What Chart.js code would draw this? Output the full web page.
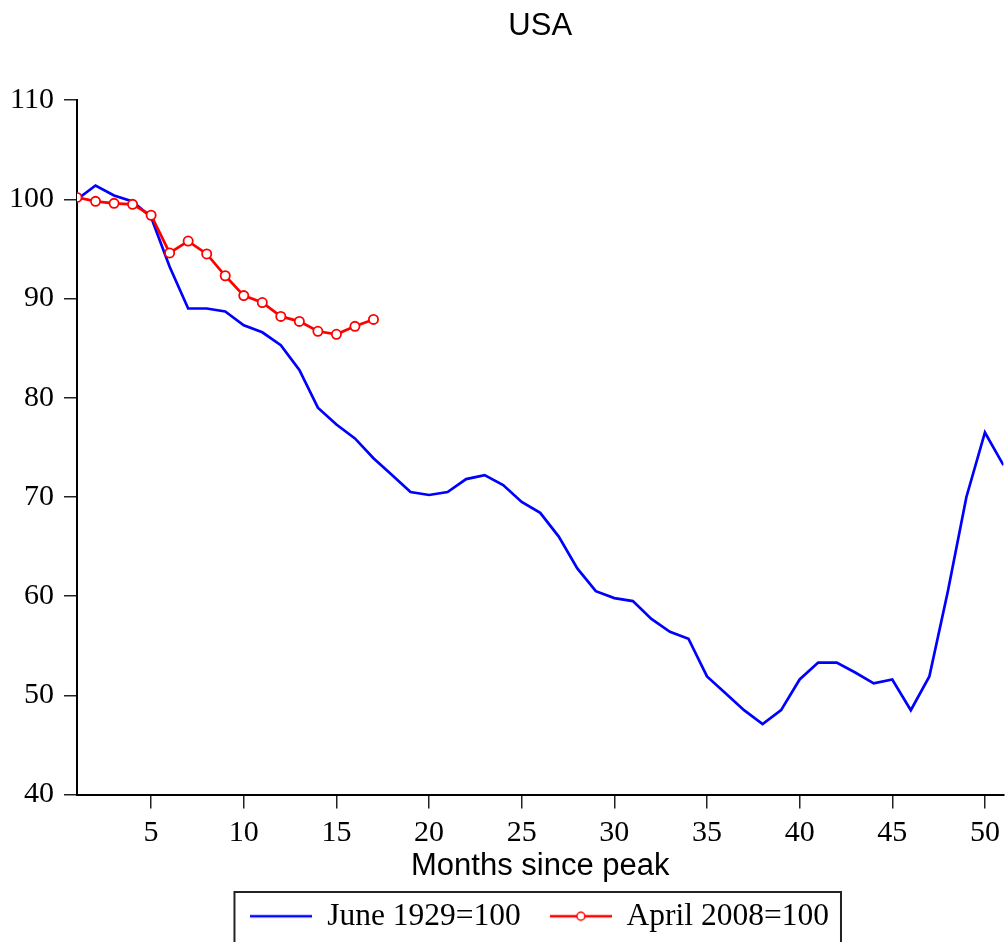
<!DOCTYPE html>
<html>
<head>
<meta charset="utf-8">
<title>USA</title>
<script src="https://cdn.jsdelivr.net/npm/chart.js@4/dist/chart.umd.min.js"></script>
<style>
  html, body { margin: 0; padding: 0; background: #fff; }
  #wrap { width: 1007px; height: 942px; }
</style>
</head>
<body>
<div id="wrap"><canvas id="usa" width="1007" height="942"></canvas></div>
<script>
// months since the peak
var months = [1, 2, 3, 4, 5, 6, 7, 8, 9, 10, 11, 12, 13, 14, 15, 16, 17, 18, 19, 20,
              21, 22, 23, 24, 25, 26, 27, 28, 29, 30, 31, 32, 33, 34, 35, 36, 37, 38, 39, 40,
              41, 42, 43, 44, 45, 46, 47, 48, 49, 50, 51];

// industrial production, indexed to the peak month
var june1929 = [100.0, 101.4, 100.4, 99.8, 98.2, 93.2, 89.0, 89.0, 88.7, 87.3,
                86.6, 85.3, 82.8, 79.0, 77.3, 75.9, 73.9, 72.2, 70.5, 70.2,
                70.5, 71.8, 72.2, 71.2, 69.5, 68.4, 66.0, 62.8, 60.5, 59.8,
                59.5, 57.7, 56.4, 55.7, 51.9, 50.2, 48.5, 47.1, 48.5, 51.6,
                53.3, 53.3, 52.3, 51.2, 51.6, 48.5, 51.9, 60.5, 70.0, 76.5,
                73.2];
var april2008 = [100.2, 99.8, 99.6, 99.5, 98.4, 94.6, 95.8, 94.5, 92.3, 90.3,
                 89.6, 88.2, 87.7, 86.7, 86.4, 87.2, 87.9];

var xTicks = [5, 10, 15, 20, 25, 30, 35, 40, 45, 50];
var yTicks = [40, 50, 60, 70, 80, 90, 100, 110];

var seriesNames = ['June 1929=100', 'April 2008=100'];

function points(vals) {
  return vals.map(function (v, i) { return { x: months[i], y: v }; });
}

// little line samples for the legend
function sample(color, marker) {
  var c = document.createElement('canvas');
  c.width = 62; c.height = 12;
  var g = c.getContext('2d');
  g.strokeStyle = color;
  g.lineWidth = 2.5;
  g.beginPath(); g.moveTo(0, 6); g.lineTo(62, 6); g.stroke();
  if (marker) {
    g.fillStyle = '#fff';
    g.lineWidth = 1.5;
    g.beginPath(); g.arc(31, 6, 4, 0, Math.PI * 2); g.fill(); g.stroke();
  }
  return c;
}
var legendSamples = [sample('#0000ff', false), sample('#ff0000', true)];

var serif = "'Liberation Serif', 'Times New Roman', serif";
var sans = "'Liberation Sans', Arial, sans-serif";

// frame around the legend
var legendFrame = {
  id: 'legendFrame',
  afterDraw: function (chart) {
    var hb = chart.legend.legendHitBoxes;
    if (!hb || !hb.length) return;
    var last = hb[hb.length - 1];
    var left = hb[0].left - 17;
    var right = last.left + last.width + 12;
    var top = hb[0].top - 8.5;
    var ctx = chart.ctx;
    ctx.save();
    ctx.strokeStyle = '#222';
    ctx.lineWidth = 2;
    ctx.strokeRect(left, top, right - left, 80);
    ctx.restore();
  }
};

var ctx = document.getElementById('usa');
var chart = new Chart(ctx, {
  type: 'line',
  data: {
    datasets: [{
      label: seriesNames[0],
      data: points(june1929),
      borderColor: '#0000ff',
      borderWidth: 2.7,
      pointRadius: 0,
      tension: 0,
      order: 1
    }, {
      label: seriesNames[1],
      data: points(april2008),
      borderColor: '#ff0000',
      borderWidth: 2.7,
      pointRadius: 4.6,
      pointBackgroundColor: '#ffffff',
      pointBorderColor: '#ff0000',
      pointBorderWidth: 1.8,
      tension: 0,
      order: 0
    }]
  },
  options: {
    responsive: false,
    animation: false,
    layout: { autoPadding: false, padding: { left: 0, right: 2, top: 0, bottom: 0 } },
    plugins: {
      title: {
        display: true,
        fullSize: false,
        text: 'USA',
        color: '#000',
        font: { family: sans, size: 31, weight: 'normal', lineHeight: 1.2 },
        padding: { top: 8, bottom: 55 }
      },
      legend: {
        position: 'bottom',
        fullSize: false,
        labels: {
          color: '#000',
          font: { family: serif, size: 31.5 },
          usePointStyle: true,
          pointStyleWidth: 60,
          padding: 30,
          sort: function (a, b) { return a.datasetIndex - b.datasetIndex; },
          generateLabels: function (chart) {
            var items = Chart.defaults.plugins.legend.labels.generateLabels(chart);
            items.forEach(function (it) { it.pointStyle = legendSamples[it.datasetIndex]; });
            return items;
          }
        }
      },
      tooltip: { enabled: false }
    },
    scales: {
      x: {
        type: 'linear',
        min: 1,
        max: 51,
        afterBuildTicks: function (scale) {
          scale.ticks = xTicks.map(function (v) { return { value: v }; });
        },
        afterFit: function (scale) { scale.height = 76; },
        grid: { drawOnChartArea: false, drawTicks: true, tickLength: 14, color: '#222', lineWidth: 1.5 },
        border: { display: true, color: '#000', width: 2 },
        ticks: { color: '#000', font: { family: serif, size: 30 }, padding: 7, maxRotation: 0 },
        title: {
          display: true,
          text: 'Months since peak',
          color: '#000',
          font: { family: sans, size: 31, lineHeight: 1.2 },
          padding: { top: 0, bottom: -15 }
        }
      },
      y: {
        min: 40,
        max: 110,
        afterBuildTicks: function (scale) {
          scale.ticks = yTicks.map(function (v) { return { value: v }; });
        },
        afterFit: function (scale) { scale.width = 77; },
        grid: { drawOnChartArea: false, drawTicks: true, tickLength: 13, color: '#222', lineWidth: 1.5 },
        border: { display: true, color: '#000', width: 2 },
        ticks: { color: '#000', font: { family: serif, size: 30 }, padding: 10 }
      }
    }
  },
  plugins: [legendFrame]
});
</script>
</body>
</html>
